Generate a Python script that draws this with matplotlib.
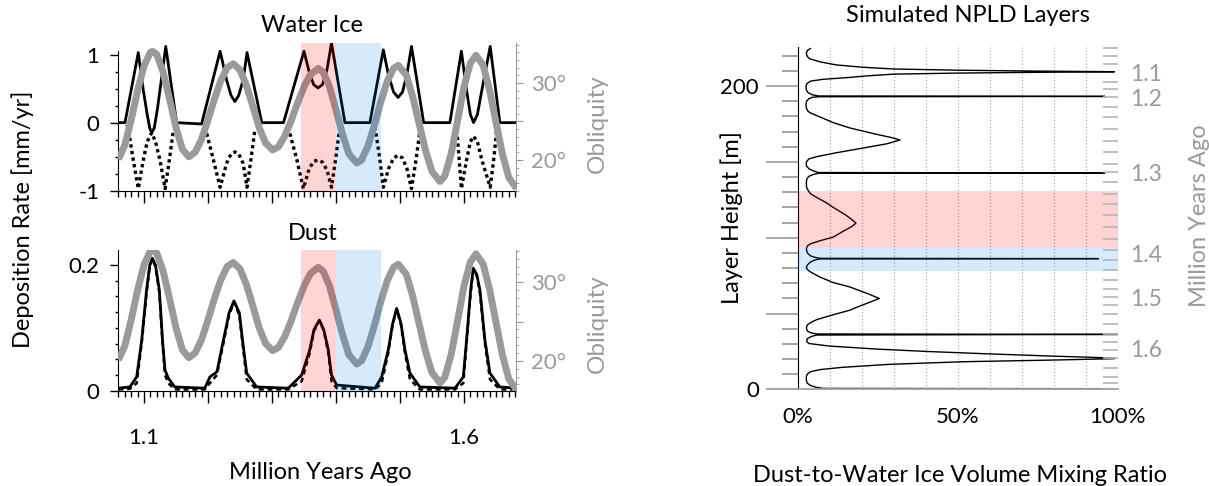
import numpy as np
import matplotlib
matplotlib.use("Agg")
import matplotlib.pyplot as plt
from matplotlib.ticker import MultipleLocator

plt.rcParams["font.family"] = ["Lato", "DejaVu Sans"]
plt.rcParams["font.size"] = 16

GRAY = "#9a9a9a"
RED = (1.0, 0.0, 0.0, 0.17)
BLUE = (0.0, 0.51, 0.88, 0.16)
LABEL = 17

# ---------------- data ----------------
# obliquity (degrees) vs time (Myr ago)
obl_age = [1.060, 1.070, 1.080, 1.090, 1.100, 1.110, 1.1136, 1.120, 1.130, 1.140, 1.150, 1.160, 1.170,
           1.180, 1.190, 1.200, 1.210, 1.220, 1.230, 1.2395, 1.250, 1.260, 1.270, 1.280, 1.290, 1.301,
           1.310, 1.320, 1.330, 1.340, 1.350, 1.360, 1.3724, 1.380, 1.390, 1.400, 1.410, 1.420, 1.4323,
           1.440, 1.450, 1.460, 1.470, 1.480, 1.490, 1.4974, 1.510, 1.520, 1.530, 1.540, 1.550, 1.5625,
           1.570, 1.580, 1.590, 1.600, 1.610, 1.6188, 1.630, 1.640, 1.650, 1.660, 1.670, 1.682]
obl_deg = [20.1, 21.9, 25.2, 29.0, 32.2, 34.0, 34.1, 33.7, 31.4, 27.9, 24.2, 21.4, 20.4,
           21.0, 22.7, 25.2, 27.9, 30.3, 32.0, 32.5, 31.7, 29.7, 27.0, 24.2, 22.2, 21.3,
           21.7, 23.1, 25.1, 27.4, 29.5, 31.1, 31.9, 31.4, 29.5, 26.5, 23.4, 20.8, 19.6,
           20.0, 21.8, 24.5, 27.5, 30.2, 31.9, 32.3, 31.0, 28.2, 24.7, 21.2, 18.5, 17.2,
           17.9, 20.8, 25.1, 29.5, 32.6, 33.6, 32.3, 29.1, 24.9, 20.8, 17.7, 16.3]

# water ice deposition rate (mm/yr), solid line
ice_age = [1.060, 1.0703, 1.0911, 1.0989, 1.105, 1.109, 1.112, 1.116, 1.121, 1.125, 1.134,
           1.151, 1.190, 1.219, 1.229, 1.236, 1.242, 1.248, 1.255, 1.261,
           1.284, 1.318, 1.350, 1.358, 1.365, 1.372, 1.379, 1.386, 1.393,
           1.414, 1.453, 1.474, 1.482, 1.490, 1.497, 1.504, 1.511, 1.518,
           1.537, 1.578, 1.596, 1.604, 1.610, 1.615, 1.621, 1.628, 1.641, 1.656, 1.682]
ice_rate = [0.0, 0.0, 1.03, 0.48, 0.12, -0.08, -0.15, -0.08, 0.20, 0.48, 1.12,
            0.0, -0.02, 1.05, 0.63, 0.40, 0.31, 0.40, 0.63, 1.03,
            0.0, 0.0, 1.05, 0.75, 0.56, 0.51, 0.56, 0.78, 1.17,
            0.0, 0.0, 1.07, 0.70, 0.45, 0.37, 0.45, 0.72, 1.12,
            0.0, 0.0, 1.05, 0.48, 0.12, 0.0, 0.12, 0.48, 1.12, 0.0, 0.0]

# water ice loss (dotted line), gaps where it sits on zero
loss_age = [1.0735, 1.0755, 1.0833, 1.0911, 1.0989, 1.105, 1.112, 1.118, 1.125, 1.133, 1.1396, 1.146, 1.17,
            1.198, 1.2085, 1.219, 1.229, 1.236, 1.242, 1.248, 1.255, 1.261, 1.267, 1.273, 1.30,
            1.328, 1.339, 1.349, 1.358, 1.365, 1.372, 1.379, 1.386, 1.393, 1.400, 1.406, 1.43,
            1.461, 1.468, 1.474, 1.482, 1.490, 1.497, 1.504, 1.511, 1.518, 1.525, 1.531, 1.56,
            1.589, 1.596, 1.604, 1.610, 1.615, 1.621, 1.628, 1.641, 1.647, 1.651]
loss_rate = [-0.03, -0.10, -0.55, -0.97, -0.55, -0.28, -0.15, -0.28, -0.55, -0.97, -0.55, -0.11, np.nan,
             -0.16, -0.55, -0.95, -0.60, -0.46, -0.43, -0.46, -0.60, -0.95, -0.55, -0.13, np.nan,
             -0.16, -0.55, -0.97, -0.68, -0.57, -0.55, -0.58, -0.70, -0.95, -0.50, -0.06, np.nan,
             -0.06, -0.50, -0.95, -0.68, -0.52, -0.48, -0.52, -0.68, -0.97, -0.55, -0.13, np.nan,
             -0.11, -0.97, -0.55, -0.28, -0.20, -0.28, -0.55, -0.95, -0.50, -0.11]

# dust deposition rate (mm/yr): solid and dashed runs
dust_age = [1.060, 1.078, 1.0886, 1.0964, 1.104, 1.109, 1.113, 1.118, 1.124, 1.129, 1.1328, 1.138, 1.148,
            1.195, 1.203, 1.214, 1.224, 1.233, 1.2406, 1.249, 1.254, 1.2605, 1.276,
            1.3255, 1.3464, 1.359, 1.3656, 1.374, 1.381, 1.388, 1.393, 1.401,
            1.461, 1.4714, 1.4817, 1.4886, 1.4948, 1.5016, 1.5078, 1.5156, 1.531,
            1.586, 1.599, 1.604, 1.6104, 1.6146, 1.620, 1.625, 1.6328, 1.6406, 1.656, 1.682]
dust_rate = [0.004, 0.006, 0.022, 0.08, 0.16, 0.200, 0.211, 0.200, 0.16, 0.08, 0.033, 0.020, 0.006,
             0.004, 0.022, 0.03, 0.08, 0.124, 0.143, 0.124, 0.08, 0.028, 0.006,
             0.004, 0.025, 0.065, 0.097, 0.1125, 0.097, 0.065, 0.025, 0.009,
             0.004, 0.022, 0.065, 0.107, 0.131, 0.107, 0.065, 0.028, 0.006,
             0.004, 0.022, 0.08, 0.16, 0.195, 0.185, 0.16, 0.08, 0.028, 0.006, 0.004]
dust_alt = [0.002, 0.003, 0.012, 0.075, 0.155, 0.198, 0.209, 0.198, 0.155, 0.075, 0.025, 0.012, 0.002,
            0.002, 0.012, 0.025, 0.075, 0.12, 0.141, 0.12, 0.075, 0.018, 0.002,
            0.002, 0.015, 0.06, 0.095, 0.111, 0.095, 0.06, 0.015, 0.004,
            0.002, 0.012, 0.06, 0.105, 0.129, 0.105, 0.06, 0.018, 0.002,
            0.002, 0.012, 0.075, 0.155, 0.193, 0.183, 0.155, 0.075, 0.018, 0.002, 0.002]

red_span = (1.345, 1.400)
blue_span = (1.400, 1.470)

# simulated NPLD layer profile: height (m) vs dust/ice mixing ratio
layer_h = [224.8, 223.5, 221.5, 219.5, 218.0, 216.0, 214.0, 212.5, 211.3, 210.5, 209.9, 209.5,
           209.1, 208.6, 207.9, 206.8, 205.7, 204.5, 203.3, 201.5, 199.5, 197.5, 195.8, 194.3, 193.5, 193.2,
           193.0, 192.6, 191.6, 190.2, 188.0, 185.5, 183.5, 182.5, 180.5, 176.0, 172.4, 168.5, 166.2, 164.5,
           162.0, 159.0, 156.0, 153.5, 152.0, 150.0, 147.5, 145.5, 144.0, 143.0, 142.7,
           142.5, 141.8, 140.5, 138.5, 136.0, 133.0, 131.0, 129.0, 126.5, 123.0, 120.0, 115.0, 111.0, 109.6,
           107.5, 104.0, 100.4, 98.0, 96.0, 94.5, 92.5, 90.0, 88.0, 87.0, 86.4, 86.2,
           86.0, 85.4, 84.0, 82.0, 80.0, 78.5, 77.4, 74.0, 70.5, 67.5, 63.0, 59.9,
           57.0, 55.0, 52.2, 48.5, 46.0, 44.5, 42.5, 40.5, 38.5, 37.2, 36.5, 36.2,
           35.8, 35.0, 33.5, 31.5, 30.2, 28.5, 26.5, 25.0, 23.5, 22.0, 20.6,
           20.2, 19.3, 18.2, 16.5, 14.5, 13.0, 11.6, 10.0, 8.5, 6.0, 4.0, 2.5, 1.2, 0.6, 0.4]
layer_ratio = [0.040, 0.030, 0.027, 0.030, 0.038, 0.07, 0.12, 0.20, 0.30, 0.50, 0.75, 0.99,
               0.75, 0.50, 0.30, 0.22, 0.16, 0.08, 0.04, 0.028, 0.026, 0.027, 0.032, 0.045, 0.065, 0.96,
               0.065, 0.045, 0.035, 0.028, 0.026, 0.027, 0.032, 0.038, 0.06, 0.11, 0.163, 0.24, 0.29, 0.32,
               0.28, 0.20, 0.12, 0.06, 0.035, 0.027, 0.027, 0.035, 0.05, 0.065, 0.96,
               0.065, 0.05, 0.035, 0.028, 0.027, 0.028, 0.033, 0.04, 0.06, 0.09, 0.111, 0.15, 0.175, 0.182,
               0.17, 0.14, 0.111, 0.07, 0.04, 0.03, 0.027, 0.03, 0.04, 0.055, 0.07, 0.94,
               0.07, 0.055, 0.04, 0.03, 0.027, 0.033, 0.04, 0.07, 0.11, 0.163, 0.22, 0.255,
               0.22, 0.195, 0.163, 0.10, 0.06, 0.045, 0.03, 0.027, 0.03, 0.042, 0.06, 1.0,
               0.06, 0.045, 0.03, 0.028, 0.035, 0.10, 0.25, 0.40, 0.58, 0.78, 0.99,
               0.99, 0.80, 0.52, 0.29, 0.14, 0.07, 0.04, 0.03, 0.027, 0.027, 0.03, 0.04, 0.06, 0.08, 0.95]

age_labels = ["1.1", "1.2", "1.3", "1.4", "1.5", "1.6"]
age_label_h = [209.0, 192.6, 143.1, 89.5, 60.6, 26.6]
age_tick_h = [225.0, 219.9, 214.5, 209.0, 203.0, 198.0, 192.5, 185.9, 179.3, 171.7, 164.0, 156.3,
              148.7, 143.2, 136.6, 128.9, 122.4, 114.7, 107.0, 99.3, 91.6, 85.1, 78.5, 71.9, 66.4,
              60.9, 55.5, 50.0, 43.4, 36.8, 31.3, 25.9, 20.4, 13.8, 8.3, 3.9]
red_layer = (93.4, 130.6)
blue_layer = (78.0, 93.4)

# ---------------- figure ----------------
W, H = 1209, 486
fig = plt.figure(figsize=(W / 100, H / 100), dpi=100)


def box(x0, y0, x1, y1):
    return [x0 / W, 1 - y1 / H, (x1 - x0) / W, (y1 - y0) / H]


def left_panel(rect, ylim, oblim):
    ax = fig.add_axes(rect)
    ax.set_xlim(1.0594, 1.6813)
    ax.set_ylim(*ylim)
    for s in ("top", "right"):
        ax.spines[s].set_visible(False)
    ax.set_xticks([1.1, 1.2, 1.3, 1.4, 1.5, 1.6])
    ax.xaxis.set_minor_locator(MultipleLocator(0.01))
    ax.tick_params(axis="x", which="major", length=8.5, width=1, direction="out")
    ax.tick_params(axis="x", which="minor", length=4.3, width=1, direction="out")
    ax.tick_params(axis="y", which="major", length=5.5, width=1, direction="out", pad=8)
    ax.tick_params(axis="y", which="minor", length=2.5, width=1, direction="out")

    axb = ax.twinx()
    axb.set_ylim(*oblim)
    for s in ("top", "left", "bottom"):
        axb.spines[s].set_visible(False)
    axb.spines["right"].set_color(GRAY)
    axb.set_yticks([20, 25, 30], labels=["20°", "", "30°"])
    axb.yaxis.set_minor_locator(MultipleLocator(1))
    axb.tick_params(axis="y", which="major", length=5, color=GRAY, labelcolor=GRAY, pad=6)
    axb.tick_params(axis="y", which="minor", length=2.5, color=GRAY)
    axb.plot(obl_age, obl_deg, color=GRAY, lw=5, solid_capstyle="butt", zorder=2)
    axb.axvspan(*red_span, color=RED, lw=0, zorder=3)
    axb.axvspan(*blue_span, color=BLUE, lw=0, zorder=3)
    axb.set_ylabel("Obliquity", color=GRAY, fontsize=17.5)
    return ax, axb


# Water ice panel
ax1, ax1b = left_panel(box(118, 43, 516, 190.7), (-1, 1.17), (16.0, 35.2))
ax1.spines["left"].set_bounds(-1, 1.05)
ax1.set_xticklabels([])
ax1.set_yticks([-1, 0, 1], labels=["-1", "0", "1"])
ax1.yaxis.set_minor_locator(MultipleLocator(0.25))
ax1.plot(ice_age, ice_rate, color="black", lw=2)
ax1.plot(loss_age, loss_rate, color="black", lw=2.4, ls=(0, (1.0, 1.0)))
ax1b.yaxis.set_label_coords(1.178, 0.455)

# Dust panel
ax2, ax2b = left_panel(box(118, 250, 516, 390.7), (0, 0.224), (16.2, 34.1))
ax2.set_xticklabels(["1.1", "", "", "", "", "1.6"])
ax2.tick_params(axis="x", which="major", pad=18)
ax2.set_yticks([0, 0.2], labels=["0", "0.2"])
ax2.yaxis.set_minor_locator(MultipleLocator(0.025))
ax2.plot(dust_age, dust_alt, color="black", lw=1.8, ls=(0, (2, 1.5)))
ax2.plot(dust_age, dust_rate, color="black", lw=2)
ax2b.yaxis.set_label_coords(1.178, 0.478)

fig.text(312 / W, 1 - 26 / H, "Water Ice", ha="center", va="center", fontsize=LABEL)
fig.text(313 / W, 1 - 233 / H, "Dust", ha="center", va="center", fontsize=LABEL)
fig.text(23 / W, 1 - 219 / H, "Deposition Rate [mm/yr]", rotation=90,
         ha="center", va="center", fontsize=LABEL)
fig.text(320 / W, 1 - 472 / H, "Million Years Ago", ha="center", va="center", fontsize=LABEL)

# NPLD layer panel
ax3 = fig.add_axes(box(797.7, 46.7, 1117.7, 389.3))
ax3.set_xlim(0, 1.0)
ax3.set_ylim(0, 226)
ax3.spines["top"].set_visible(False)
ax3.spines["right"].set_visible(False)
ax3.spines["bottom"].set_color("#a0a0a0")
ax3.spines["bottom"].set_linewidth(1.3)
ax3.set_xticks([0, 0.5, 1.0], labels=["0%", "50%", "100%"])
ax3.set_xticks(np.arange(0.1, 1.01, 0.1), minor=True)
ax3.tick_params(axis="x", which="both", length=0, pad=13)
ax3.grid(axis="x", which="both", ls=":", color="#b0b0b0", lw=0.9)
ax3.set_yticks([0, 50, 100, 150, 200], labels=["0", "", "", "", "200"])
ax3.yaxis.set_minor_locator(MultipleLocator(10))
ax3.tick_params(axis="y", which="major", length=23, width=1.3, color="#a0a0a0", pad=5)
ax3.tick_params(axis="y", which="minor", length=11.5, width=1.1, color="#8a8a8a")
ax3.plot(layer_ratio, layer_h, color="black", lw=1.0)
ax3.axhspan(*red_layer, color=RED, lw=0, zorder=3)
ax3.axhspan(*blue_layer, color=BLUE, lw=0, zorder=3)
ax3.set_ylabel("Layer Height [m]", fontsize=LABEL)
ax3.yaxis.set_label_coords(-0.171, 0.5)

ax3b = ax3.twinx()
ax3b.set_ylim(0, 226)
for s in ax3b.spines.values():
    s.set_visible(False)
ax3b.set_yticks(age_label_h, labels=age_labels, fontsize=16.5)
ax3b.set_yticks(age_tick_h, minor=True)
ax3b.tick_params(axis="y", which="major", length=0, labelcolor=GRAY, pad=9)
ax3b.tick_params(axis="y", which="minor", direction="in", length=11, width=1.2, color="#b5b5b5")
ax3b.set_ylabel("Million Years Ago", color=GRAY, fontsize=LABEL)
ax3b.yaxis.set_label_coords(1.222, 0.506)

fig.text(968 / W, 1 - 16 / H, "Simulated NPLD Layers", ha="center", va="center", fontsize=LABEL)
fig.text(960 / W, 1 - 475 / H, "Dust-to-Water Ice Volume Mixing Ratio", ha="center", va="center",
         fontsize=LABEL)

fig.savefig("out.png", dpi=100)
